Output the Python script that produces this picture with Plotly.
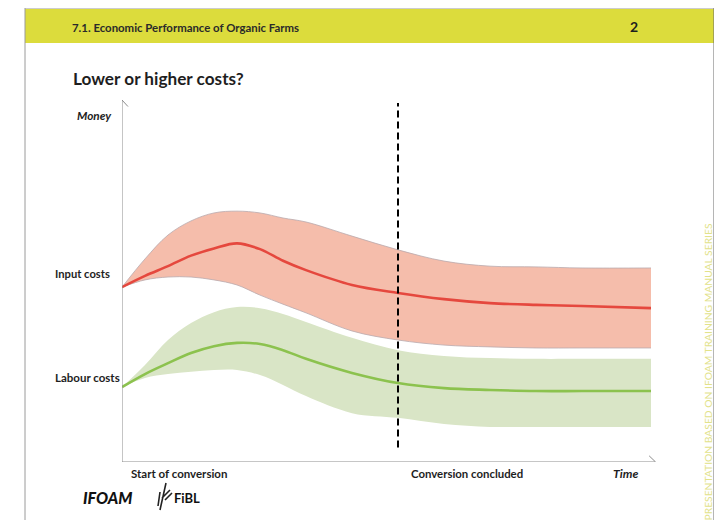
import plotly.graph_objects as go

# time in years since start of conversion, money as an index (0-100)
time = [0, 0.25, 0.5, 0.75, 1.0, 1.25, 1.5, 1.75, 2.0, 2.5, 3.0, 3.5, 4.0, 4.5, 5.0, 5.75]

input_high = [48.3, 56.1, 62.7, 66.6, 68.8, 69.3, 68.8, 67.4, 66.3, 62.4, 58.6, 55.5, 54.1, 53.9, 53.6, 53.6]
input_mid = [48.3, 51.4, 54.1, 57.0, 59.0, 60.4, 58.8, 55.6, 53.0, 48.9, 46.7, 45.0, 43.9, 43.4, 43.1, 42.5]
input_low = [48.3, 50.3, 51.1, 51.1, 50.3, 48.9, 46.1, 43.6, 41.2, 36.2, 33.7, 32.3, 31.8, 31.5, 31.5, 31.5]

labour_high = [20.7, 26.8, 33.7, 38.4, 41.4, 42.8, 42.5, 40.9, 38.7, 34.3, 30.9, 29.3, 28.7, 28.5, 28.5, 28.5]
labour_mid = [20.7, 24.3, 27.3, 30.1, 32.0, 32.9, 32.6, 30.9, 28.5, 24.6, 21.8, 20.4, 19.9, 19.6, 19.6, 19.6]
labour_low = [20.7, 23.2, 24.3, 24.9, 25.4, 25.4, 24.0, 21.3, 18.2, 13.5, 12.2, 10.5, 9.7, 9.7, 9.7, 9.7]

conversion_end = 3
x_max = 5.8
y_max = 100

# page body has an 8px margin, so the figure is 8px smaller than the window
OFF = 8
W, H = 722 - OFF, 520 - OFF
FONT = "Lato"


def px(x):
    return (x - OFF) / W


def py(y):
    return 1 - (y - OFF) / H


fig = go.Figure()

def band(high, mid, low, fill, line_col, edge):
    fig.add_trace(go.Scatter(x=time, y=high, mode="lines", line=dict(color=edge, width=0.8, shape="spline"),
                             hoverinfo="skip"))
    fig.add_trace(go.Scatter(x=time, y=low, mode="lines", fill="tonexty", fillcolor=fill,
                             line=dict(color=edge, width=0.8, shape="spline"), hoverinfo="skip"))
    fig.add_trace(go.Scatter(x=time, y=mid, mode="lines", line=dict(color=line_col, width=2.6, shape="spline")))

band(input_high, input_mid, input_low, "#f5bdab", "#e5483e", "#b9a9ad")
band(labour_high, labour_mid, labour_low, "#d9e5c6", "#8cc24e", "rgba(0,0,0,0)")

axis_col = "#8c8c8c"
shapes = [
    # page frame and header band
    dict(type="rect", xref="paper", yref="paper", x0=px(25), x1=px(714), y0=py(43), y1=py(9),
         fillcolor="#dcdc3c", line=dict(width=0), layer="below"),
    dict(type="line", xref="paper", yref="paper", x0=px(25), x1=px(714), y0=py(8), y1=py(8),
         line=dict(color="#9a9a9a", width=1)),
    dict(type="line", xref="paper", yref="paper", x0=px(25), x1=px(25), y0=py(8), y1=0,
         line=dict(color="#9a9a9a", width=1)),
    dict(type="line", xref="paper", yref="paper", x0=px(714), x1=px(714), y0=py(8), y1=0,
         line=dict(color="#6a6a6a", width=1)),
    # axes
    dict(type="line", x0=0, x1=0, y0=0, y1=y_max, line=dict(color=axis_col, width=1)),
    dict(type="line", x0=0, x1=x_max, y0=0, y1=0, line=dict(color=axis_col, width=1)),
    dict(type="path", path=f"M -0.065,{y_max - 1.8} L 0,{y_max} L 0.065,{y_max - 1.8}",
         line=dict(color=axis_col, width=1)),
    dict(type="path", path=f"M {x_max - 0.07},1.7 L {x_max},0 L {x_max - 0.07},-1.7",
         line=dict(color=axis_col, width=1)),
    # end of conversion
    dict(type="line", x0=conversion_end, x1=conversion_end, y0=4, y1=99.2,
         line=dict(color="black", width=2, dash="7px,4px")),
    # FiBL mark
    dict(type="path", xref="paper", yref="paper",
         path=f"M {px(160)},{py(510)} L {px(166)},{py(483)} M {px(162)},{py(498)} L {px(170)},{py(490)} "
              f"M {px(165)},{py(500)} L {px(172)},{py(493)} M {px(158)},{py(506)} L {px(160)},{py(492)}",
         line=dict(color="#222", width=1.6)),
]

def txt(x, y, s, size=11.5, anchor="left", color="#1e1e1e", weight="bold", style="normal"):
    return dict(x=px(x), y=py(y), xref="paper", yref="paper", text=s, showarrow=False,
                xanchor=anchor, yanchor="middle",
                font=dict(family=FONT, size=size, color=color, weight=weight, style=style))

annotations = [
    txt(70, 27, "7.1. Economic Performance of Organic Farms", size=11.4, color="#2a2a2a"),
    txt(634, 26, "2", size=14, anchor="center"),
    txt(71, 78, "Lower or higher costs?", size=17.2),
    txt(114, 115, "Money", size=11.8, anchor="right", style="italic"),
    txt(53, 273, "Input costs", size=11.2),
    txt(53, 377, "Labour costs", size=11.5),
    txt(129, 473, "Start of conversion", size=11.5),
    txt(409, 473, "Conversion concluded", size=11.4),
    txt(611, 473, "Time", size=12.2, style="italic"),
    txt(81, 497, "IFOAM", size=16, color="#111", weight=900, style="italic"),
    txt(172, 498, "FiBL", size=13, color="#111"),
    dict(x=px(707), y=py(222), xref="paper", yref="paper", showarrow=False,
         text="PRESENTATION BASED ON IFOAM TRAINING MANUAL SERIES", textangle=-90,
         xanchor="center", yanchor="top", font=dict(family=FONT, size=10.3, color="#e2e28a")),
]

fig.update_layout(
    width=W, height=H,
    margin=dict(l=0, r=0, t=0, b=0),
    paper_bgcolor="white",
    plot_bgcolor="white",
    showlegend=False,
    xaxis=dict(range=[0, x_max], domain=[px(122), px(122 + x_max * 92)], visible=False),
    yaxis=dict(range=[0, y_max], domain=[py(462), py(100)], visible=False),
    shapes=shapes,
    annotations=annotations,
)

fig.write_html("out.html")
